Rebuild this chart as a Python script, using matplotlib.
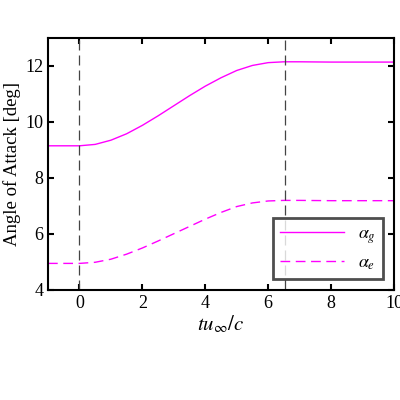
import matplotlib
matplotlib.use("Agg")
import matplotlib.pyplot as plt

plt.rcParams['font.family'] = 'Liberation Serif'
plt.rcParams['mathtext.fontset'] = 'stix'

t = [-1, 0, 0.5, 1, 1.5, 2, 2.5, 3, 3.5, 4, 4.5, 5, 5.5, 6, 6.5, 7, 8, 9, 10]
alpha_g = [9.15, 9.15, 9.2, 9.35, 9.58, 9.88, 10.22, 10.58, 10.94, 11.28, 11.58, 11.84, 12.02, 12.12, 12.15, 12.15, 12.14, 12.14, 12.14]
alpha_e = [4.95, 4.95, 4.99, 5.1, 5.28, 5.5, 5.75, 6.01, 6.27, 6.53, 6.77, 6.98, 7.11, 7.18, 7.2, 7.2, 7.19, 7.19, 7.19]
vlines = [0, 6.55]

fig = plt.figure(figsize=(4, 4), dpi=100)
ax = fig.add_axes([0.12, 0.275, 0.865, 0.63])
ax.plot(t, alpha_g, color='#ff00ff', lw=1, label=r'$\alpha_g$')
ax.plot(t, alpha_e, color='#ff00ff', lw=1, ls=(0, (7, 4)), label=r'$\alpha_e$')
for v in vlines:
    ax.axvline(v, color='#444444', lw=0.9, ls=(0, (8, 4)))
ax.set_xlim(-1, 10)
ax.set_ylim(4, 13)
ax.set_xticks([0, 2, 4, 6, 8, 10])
ax.set_yticks([4, 6, 8, 10, 12])
ax.tick_params(direction='in', labelsize=13, width=1.5, length=4, top=True, right=True)
for s in ax.spines.values():
    s.set_linewidth(1.5)
ax.set_xlabel(r'$tu_\infty/c$', fontsize=15, labelpad=1)
ax.set_ylabel('Angle of Attack [deg]', fontsize=13.5, labelpad=3)
leg = ax.legend(loc='lower right', fontsize=13, fancybox=False, edgecolor='#222222',
                handlelength=3.5, borderaxespad=0.6)
leg.get_frame().set_linewidth(2)
fig.savefig('out.png', dpi=100)
